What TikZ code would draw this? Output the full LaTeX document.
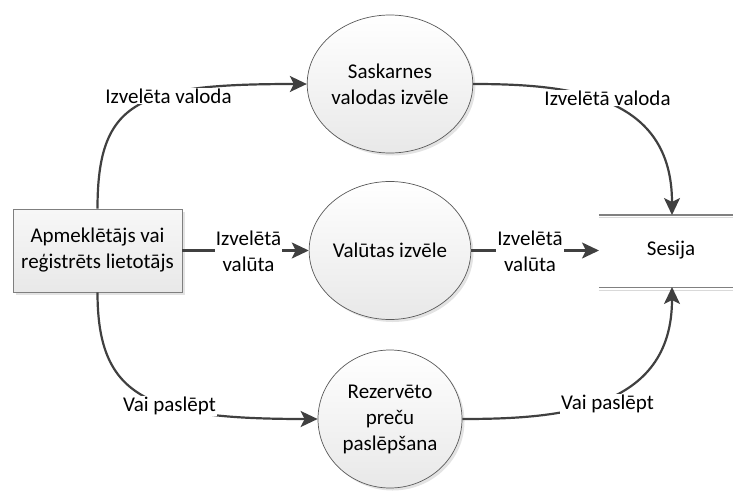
\documentclass[tikz,border=0pt]{standalone}
\usepackage{fontspec}
\setmainfont{Carlito}
\usetikzlibrary{arrows.meta,shapes.geometric,shadows}
\definecolor{ln}{HTML}{404040}
\definecolor{procline}{HTML}{595959}
\definecolor{rectline}{HTML}{7F7F7F}
\definecolor{storeline}{HTML}{808080}
\begin{document}
\begin{tikzpicture}[x=1pt,y=-1pt,
  font=\fontsize{21}{26}\selectfont,
  proc/.style={ellipse, minimum width=144pt, minimum height=138pt, inner sep=0pt,
    draw=procline, line width=0.7pt, top color=white, bottom color=black!9,
    drop shadow={opacity=0.22, shadow xshift=2.5pt, shadow yshift=-2.5pt},
    align=center},
  ext/.style={rectangle, minimum width=169pt, minimum height=83pt, inner sep=0pt,
    draw=rectline, line width=0.9pt, top color=black!3, bottom color=black!9,
    drop shadow={opacity=0.22, shadow xshift=2.5pt, shadow yshift=-2.5pt},
    align=center},
  flow/.style={draw=ln, line width=2.2pt, -{Stealth[length=17pt,width=16pt,inset=4pt]}},
  lbl/.style={fill=white, inner sep=1pt, align=center}]
\useasboundingbox (0,0) rectangle (733,490);

% nodes
\node[ext] (user) at (97.5,250.5) {Apmeklētājs vai\\reģistrēts lietotājs};
\node[proc] (c1) at (390,84) {Saskarnes\\valodas izvēle};
\node[proc] (c2) at (390,250.5) {Valūtas izvēle};
\node[proc] (c3) at (390,419) {Rezervēto\\preču\\paslēpšana};

% data store
\node[minimum width=134pt, minimum height=72pt, inner sep=0pt] (store) at (666,251) {};
\draw[black!15, line width=1.2pt] ([yshift=-3pt]store.north west) -- ([yshift=-3pt]store.north east);
\draw[black!15, line width=1.2pt] ([yshift=-3pt]store.south west) -- ([yshift=-3pt]store.south east);
\draw[storeline, line width=1.4pt] (store.north west) -- (store.north east);
\draw[storeline, line width=1.4pt] (store.south west) -- (store.south east);
\node (sesText) at (671,250) {Sesija};
\coordinate (sT) at (672,215);
\coordinate (sB) at (672,287);
\coordinate (sL) at (599,250.5);

% flows
\draw[flow] (user.north) .. controls +(0,-109) and +(-168,0) .. (c1.west);
\draw[flow] (c1.east) .. controls +(98,0) and +(0,-120) .. (sT);
\draw[flow] (user.east) -- (c2.west);
\draw[flow] (c2.east) -- (sL);
\draw[flow] (user.south) .. controls +(0,107) and +(-168,0) .. (c3.west);
\draw[flow] (c3.east) .. controls +(98,0) and +(0,123) .. (sB);

% labels
\node[lbl] (l1) at (168.5,96) {Izvelēta valoda};
\node[lbl] (l2) at (607.5,98) {Izvelētā valoda};
\node[lbl] (l3) at (248.5,251) {Izvelētā\\valūta};
\node[lbl] (l4) at (530,251) {Izvelētā\\valūta};
\node[lbl] (l5) at (169.5,406) {Vai paslēpt};
\node[lbl] (l6) at (607.5,404) {Vai paslēpt};
\end{tikzpicture}
\end{document}
